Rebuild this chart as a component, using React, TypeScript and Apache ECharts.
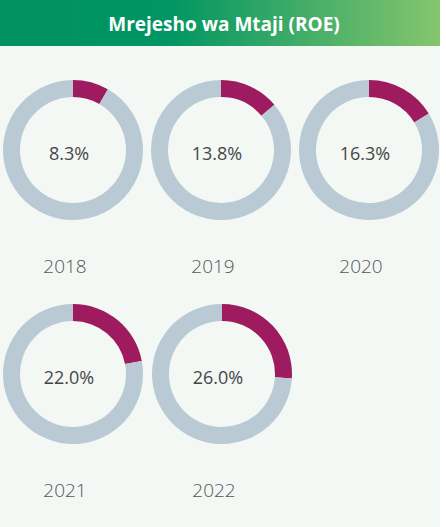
import React, { useEffect, useRef } from "react";
import * as echarts from "echarts";

const years = ["2018", "2019", "2020", "2021", "2022"];
const roe = [8.3, 13.8, 16.3, 22.0, 26.0];
const titleText = "Mrejesho wa Mtaji (ROE)";

const centers: [number, number][] = [
  [73, 150],
  [221, 150],
  [369, 150],
  [73, 374],
  [222, 374],
];

export default function App() {
  const ref = useRef<HTMLDivElement>(null);
  useEffect(() => {
    const chart = echarts.init(ref.current!, null, { renderer: "svg" });
    const series = years.map((y, i) => ({
      type: "pie",
      center: centers[i],
      radius: [53, 70],
      startAngle: 90,
      clockwise: true,
      silent: true,
      labelLine: { show: false },
      data: [
        {
          value: roe[i],
          name: y,
          itemStyle: { color: "#9e1b5f" },
          label: {
            show: true,
            position: "center",
            formatter: roe[i].toFixed(1) + "%",
            fontSize: 18,
            fontWeight: 500,
            fontFamily: "Open Sans",
            color: "#474747",
            offset: [-4, 3],
          },
        },
        {
          value: 100 - roe[i],
          name: y + " rest",
          itemStyle: { color: "#b9cad4" },
          label: { show: false },
        },
      ],
    }));
    const yearLabels = years.map((y, i) => ({
      type: "text",
      x: centers[i][0] - 8,
      y: centers[i][1] + 116,
      style: {
        text: y,
        fill: "#555555",
        fontSize: 19,
        fontFamily: "Open Sans",
        fontWeight: 300,
        align: "center",
        verticalAlign: "middle",
      },
    }));
    chart.setOption({
      animation: false,
      backgroundColor: "#ffffff",
      graphic: [
        {
          type: "rect",
          shape: { x: 0, y: 46, width: 440, height: 481 },
          style: { fill: "#f3f8f5" },
          z: -10,
        },
        {
          type: "rect",
          shape: { x: 0, y: 0, width: 440, height: 46 },
          style: {
            fill: new echarts.graphic.LinearGradient(0, 0, 1, 0, [
              { offset: 0, color: "#009260" },
              { offset: 0.38, color: "#009562" },
              { offset: 1, color: "#85c56e" },
            ]),
          },
        },
        {
          type: "text",
          x: 224,
          y: 24,
          style: {
            text: titleText,
            fill: "#ffffff",
            fontSize: 19,
            fontWeight: 700,
            fontFamily: "Open Sans",
            align: "center",
            verticalAlign: "middle",
          },
        },
        ...yearLabels,
      ],
      series,
    });
    return () => chart.dispose();
  }, []);
  return (
    <div
      ref={ref}
      style={{ position: "fixed", left: 0, top: 0, width: 446, height: 527 }}
    />
  );
}
